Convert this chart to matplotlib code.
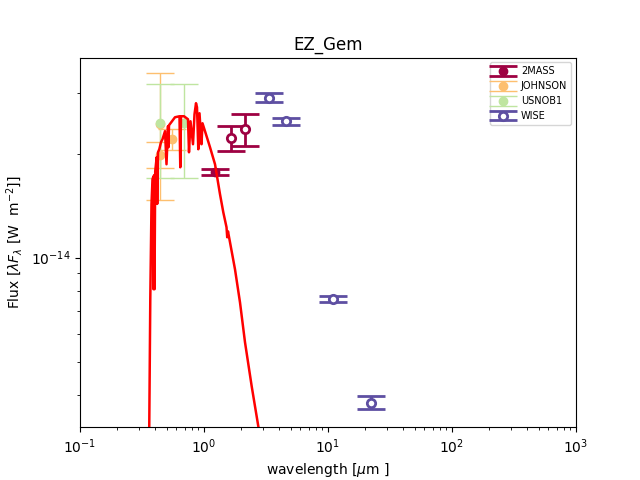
import matplotlib
matplotlib.use("Agg")
import matplotlib.pyplot as plt
import numpy as np

# model spectrum (wavelength in um, lambda*F_lambda in W m^-2)
model_wl = [0.3601, 0.3688, 0.3772, 0.3844, 0.3894, 0.3916, 0.3952, 0.3989, 0.4042,
            0.4153, 0.4195, 0.4256, 0.4360, 0.4499, 0.4627, 0.4848, 0.4984,
            0.5125, 0.5172, 0.5221, 0.5520, 0.5835, 0.6345, 0.6437, 0.6524, 0.6899,
            0.7430, 0.7568, 0.7783, 0.8151, 0.8383, 0.8620, 0.8781, 0.8995, 0.9198,
            0.9546, 0.9725, 1.019, 1.118, 1.227, 1.346, 1.431, 1.519, 1.539, 1.561,
            1.621, 1.778, 1.951, 2.141, 2.425, 2.741, 2.991]
model_flux = [0.261, 0.757, 1.427, 1.685, 1.708, 0.810, 1.731, 0.810, 1.777,
              1.951, 1.430, 2.017, 2.058, 2.157, 2.200, 2.321, 1.862,
              2.399, 2.086, 2.415, 2.480, 2.547, 2.564, 1.825, 2.564, 2.564,
              2.513, 2.017, 2.480, 2.128, 2.598, 2.797, 2.723, 2.058, 2.616,
              2.128, 2.447, 2.321, 2.086, 1.862, 1.525, 1.352, 1.224, 1.145, 1.191,
              1.107, 0.925, 0.742, 0.569, 0.424, 0.325, 0.270]
model_flux = [v * 1e-14 for v in model_flux]

# photometry
tmass_wl = [1.235, 1.662, 2.159]
tmass_flux = [1.772e-14, 2.214e-14, 2.351e-14]
tmass_err = [0.038e-14, 0.185e-14, 0.247e-14]

johnson_wl = [0.44, 0.44, 0.55]
johnson_flux = [2.44e-14, 1.985e-14, 2.20e-14]
johnson_err = [0.975e-14, 0.17e-14, 0.15e-14]

usno_wl = [0.44, 0.686]
usno_flux = [2.446e-14, 2.446e-14]
usno_err = [0.742e-14, 0.742e-14]

wise_wl = [3.35, 4.6, 11.0, 22.09]
wise_flux = [2.905e-14, 2.476e-14, 7.61e-15, 3.80e-15]
wise_err = [0.08e-14, 0.064e-14, 0.15e-15, 0.165e-15]

colors = plt.cm.Spectral(np.linspace(0, 1, 4))

fig, ax = plt.subplots(figsize=(6.4, 4.8), dpi=100)

ax.errorbar(tmass_wl[:1], tmass_flux[:1], yerr=tmass_err[:1], fmt='o', color=colors[0],
            capsize=10, elinewidth=2, capthick=2, label='2MASS')
ax.errorbar(tmass_wl[1:], tmass_flux[1:], yerr=tmass_err[1:], fmt='o', color=colors[0],
            mfc='white', mec=colors[0], mew=2, capsize=10, elinewidth=2, capthick=2)
ax.errorbar(johnson_wl, johnson_flux, yerr=johnson_err, fmt='o', color=colors[1],
            capsize=10, elinewidth=1, capthick=1, label='JOHNSON')
ax.errorbar(usno_wl, usno_flux, yerr=usno_err, fmt='o', color=colors[2],
            capsize=10, elinewidth=1, capthick=1, label='USNOB1')
ax.errorbar(wise_wl, wise_flux, yerr=wise_err, fmt='o', color=colors[3],
            mfc='white', mec=colors[3], mew=2, capsize=10, elinewidth=2, capthick=2,
            label='WISE')

# model drawn over the photometry
ax.plot(model_wl, model_flux, color='red', lw=1.8, zorder=5)

ax.set_xscale('log')
ax.set_yscale('log')
ax.set_xlim(0.1, 1000)
ax.set_ylim(3.23e-15, 3.79e-14)
ax.set_xlabel(r'wavelength [$\mu$m ]')
ax.set_ylabel(r'Flux [$\lambda F_\lambda$ [W  m$^{-2}$]]')
ax.set_title('EZ_Gem')
ax.legend(loc='upper right', fontsize=7)

plt.savefig('out.png')
